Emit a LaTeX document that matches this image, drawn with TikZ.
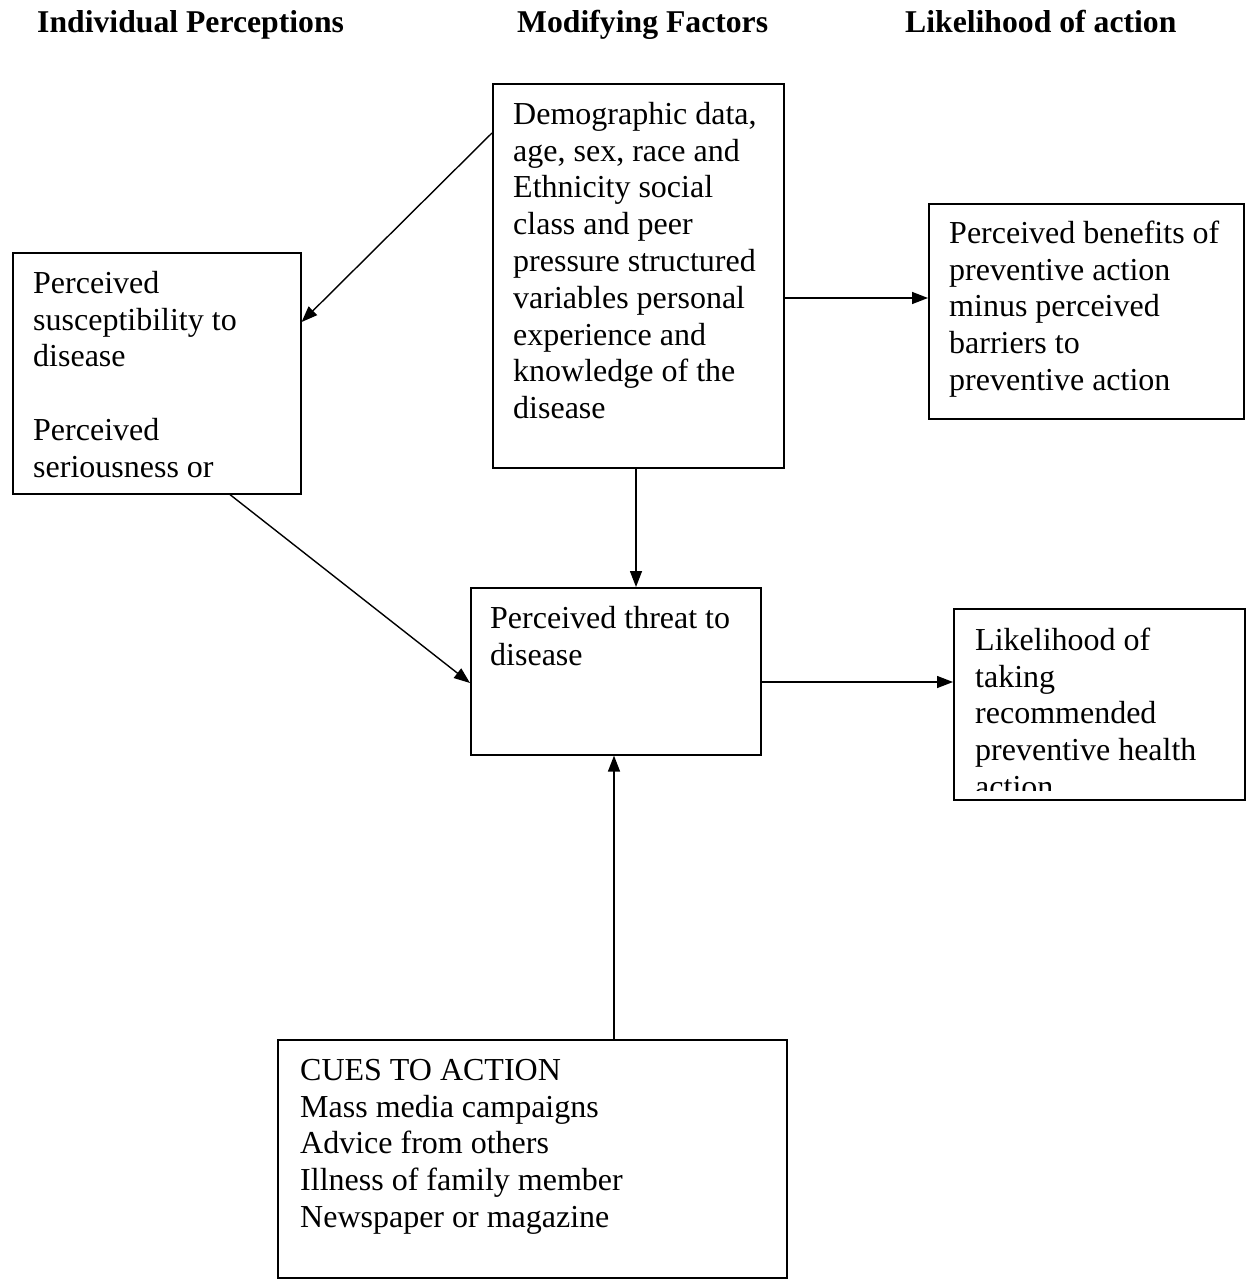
\documentclass[tikz,border=0pt]{standalone}
\usepackage{fontspec}
\setmainfont{Liberation Serif}
\usetikzlibrary{arrows.meta,calc}
\begin{document}
\begin{tikzpicture}[x=1pt,y=-1pt,
  box/.style={draw,line width=1.6pt,inner sep=0pt,anchor=north west},
  txt/.style={anchor=north west,inner sep=0pt,align=left,font=\fontsize{32}{36.8}\selectfont},
  head/.style={anchor=base west,inner sep=0pt,font=\fontsize{31.7}{36}\selectfont\bfseries},
  arr/.style={line width=1.4pt,-{Triangle[length=16pt,width=12pt]}}]
\useasboundingbox (0,0) rectangle (1246,1279);

% headers
\node[head] (h1) at (37,33) {Individual Perceptions};
\node[head] (h2) at (517,33) {Modifying Factors};
\node[head] (h3) at (905,33) {Likelihood of action};

% boxes
\node[box,minimum width=291pt,minimum height=384pt] (demo) at (492,83) {};
\node[box,minimum width=288pt,minimum height=241pt] (left) at (12,252) {};
\node[box,minimum width=315pt,minimum height=215pt] (ben) at (928,203) {};
\node[box,minimum width=290pt,minimum height=167pt] (threat) at (470,587) {};
\node[box,minimum width=291pt,minimum height=191pt] (like) at (953,608) {};
\node[box,minimum width=509pt,minimum height=238pt] (cues) at (277,1039) {};

% texts
\node[txt] (demotxt) at (513,99) {\rule{0pt}{25pt}Demographic data,\\ age, sex, race and\\ Ethnicity social\\ class and peer\\ pressure structured\\ variables personal\\ experience and\\ knowledge of the\\ disease};
\node[txt] (lefttxt) at (33,268) {\rule{0pt}{25pt}Perceived\\ susceptibility to\\ disease\\[36.8pt] Perceived\\ seriousness or};
\node[txt] (bentxt) at (949,218) {\rule{0pt}{25pt}Perceived benefits of\\ preventive action\\ minus perceived\\ barriers to\\ preventive action};
\node[txt] (threattxt) at (490,603) {\rule{0pt}{25pt}Perceived threat to\\ disease};
\begin{scope}
  \clip (like.north west) rectangle ($(like.south east)+(0,-10)$);
  \node[txt] (liketxt) at (975,625) {\rule{0pt}{25pt}Likelihood of\\ taking\\ recommended\\ preventive health\\ action};
\end{scope}
\node[txt] (cuestxt) at (300,1055) {\rule{0pt}{25pt}CUES TO ACTION\\ Mass media campaigns\\ Advice from others\\ Illness of family member\\ Newspaper or magazine};

% connectors
\draw[arr] ($(demo.north west)+(0,50)$) -- ($(left.north east)+(0,70)$);
\draw[arr] ($(demo.north east)+(0,215)$) -- ($(ben.north west)+(0,95)$);
\draw[arr] ($(demo.south west)+(144,0)$) -- ($(threat.north west)+(166,0)$);
\draw[arr] ($(left.south west)+(218,0)$) -- ($(threat.north west)+(0,96)$);
\draw[arr] ($(threat.north east)+(0,95)$) -- ($(like.north west)+(0,74)$);
\draw[arr] ($(cues.north west)+(337,0)$) -- ($(threat.south west)+(144,0)$);
\end{tikzpicture}
\end{document}
